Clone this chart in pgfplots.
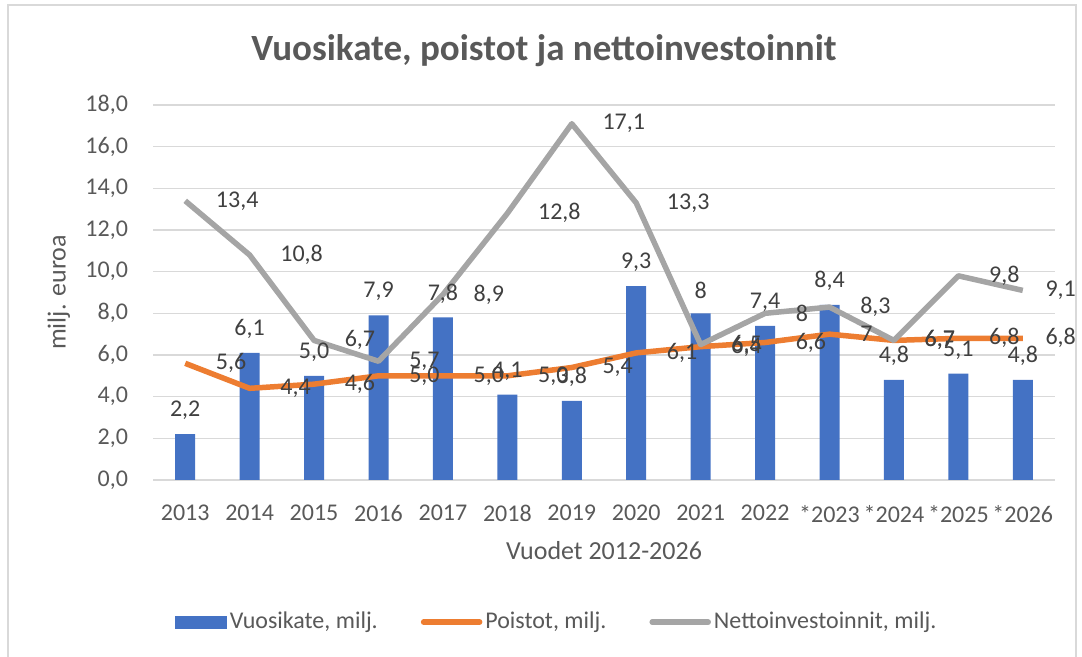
\documentclass[border=0pt]{standalone}
\usepackage{fontspec}
\setmainfont{Carlito}
\usepackage{pgfplots}
\usepackage{pgfplotstable}
\pgfplotsset{compat=1.18}

\definecolor{cBar}{HTML}{4472C4}
\definecolor{cOrange}{HTML}{ED7D31}
\definecolor{cGray}{HTML}{A5A5A5}
\definecolor{cGrid}{HTML}{D9D9D9}
\definecolor{cTick}{HTML}{595959}
\definecolor{cLabel}{HTML}{404040}
\definecolor{cFrame}{HTML}{D9D9D9}

% x = category index (0 = 2013 ... 13 = *2026)
\pgfplotstableread{
x y lab
0 2.2 2,2
1 6.1 6,1
2 5.0 5,0
3 7.9 7,9
4 7.8 7,8
5 4.1 4,1
6 3.8 3,8
7 9.3 9,3
8 8.0 8
9 7.4 7,4
10 8.4 8,4
11 4.8 4,8
12 5.1 5,1
13 4.8 4,8
}\vuosikate

\pgfplotstableread{
x y lab
0 5.6 5,6
1 4.4 4,4
2 4.6 4,6
3 5.0 5,0
4 5.0 5,0
5 5.0 5,0
6 5.4 5,4
7 6.1 6,1
8 6.4 6,4
9 6.6 6,6
10 7.0 7
11 6.7 6,7
12 6.8 6,8
13 6.8 6,8
}\poistot

\pgfplotstableread{
x y lab
0 13.4 13,4
1 10.8 10,8
2 6.7 6,7
3 5.7 5,7
4 8.9 8,9
5 12.8 12,8
6 17.1 17,1
7 13.3 13,3
8 6.5 6,5
9 8.0 8
10 8.3 8,3
11 6.7 6,7
12 9.8 9,8
13 9.1 9,1
}\netto

\begin{document}
\begin{tikzpicture}
\path[use as bounding box] (0,0) rectangle (541pt,328.5pt);
\draw[cFrame, line width=1pt] (4pt,0) -- (4pt,326pt) -- (538pt,326pt) -- (538pt,0);
\node[font=\fontsize{18.5}{22}\selectfont\bfseries, text=cTick] at (272pt,303pt)
  {Vuosikate, poistot ja nettoinvestoinnit};

\begin{axis}[
    at={(76.5pt,88.5pt)}, anchor=south west,
    scale only axis, width=451pt, height=187.5pt,
    xmin=-0.5, xmax=13.5, ymin=0, ymax=18,
    ytick={0,2,...,18},
    xtick={0,...,13},
    xticklabels={2013,2014,2015,2016,2017,2018,2019,2020,2021,2022,*2023,*2024,*2025,*2026},
    axis line style={draw=none},
    major tick length=0pt,
    ymajorgrids,
    grid style={cGrid, line width=0.75pt},
    clip=false,
    /pgf/number format/.cd, fixed, fixed zerofill, precision=1, use comma, assume math mode=true,
    /pgfplots/.cd,
    tick label style={font=\fontsize{12}{14}\selectfont, text=cTick},
    yticklabel style={xshift=-9pt},
    xticklabel style={yshift=-9pt},
    xlabel={Vuodet 2012-2026},
    ylabel={milj. euroa},
    label style={font=\fontsize{13}{15}\selectfont, text=cTick},
    xlabel style={at={(axis description cs:0.5,-0.187)}, anchor=center},
    ylabel style={at={(axis description cs:-0.084,0.5)}},
    legend columns=3,
    legend style={at={(0.448,-0.379)}, anchor=center, draw=none,
        font=\fontsize{12}{14}\selectfont, text=cTick,
        /tikz/every even column/.append style={column sep=20pt},
        nodes={inner sep=1.5pt}},
    point meta=explicit symbolic,
]
\addplot[ybar, bar width=10pt, fill=cBar, draw=none,
    nodes near coords={\pgfplotspointmeta},
    every node near coord/.append style={font=\fontsize{12}{14}\selectfont, text=cLabel, inner sep=0pt, anchor=south, yshift=7pt},
    legend image code/.code={\fill[cBar] (0pt,-3.25pt) rectangle (26pt,3.25pt);}]
    table[x=x, y=y, meta=lab] {\vuosikate};
\addlegendentry{Vuosikate, milj.}

\addplot[cOrange, line width=2.75pt, line join=round, mark=none,
    nodes near coords={\pgfplotspointmeta},
    every node near coord/.append style={font=\fontsize{12}{14}\selectfont, text=cLabel, inner sep=0pt, anchor=west, xshift=14pt},
    coordinate style/.condition={x>12.5}{xshift=-4pt},
    legend image code/.code={\draw[cOrange, line width=2.75pt, line cap=round] (0pt,0pt) -- (28pt,0pt);}]
    table[x=x, y=y, meta=lab] {\poistot};
\addlegendentry{Poistot, milj.}

\addplot[cGray, line width=2.75pt, line join=round, mark=none,
    nodes near coords={\pgfplotspointmeta},
    every node near coord/.append style={font=\fontsize{12}{14}\selectfont, text=cLabel, inner sep=0pt, anchor=west, xshift=14pt},
    coordinate style/.condition={x>12.5}{xshift=-4pt},
    legend image code/.code={\draw[cGray, line width=2.75pt, line cap=round] (0pt,0pt) -- (28pt,0pt);}]
    table[x=x, y=y, meta=lab] {\netto};
\addlegendentry{Nettoinvestoinnit, milj.}
\end{axis}
\end{tikzpicture}
\end{document}
